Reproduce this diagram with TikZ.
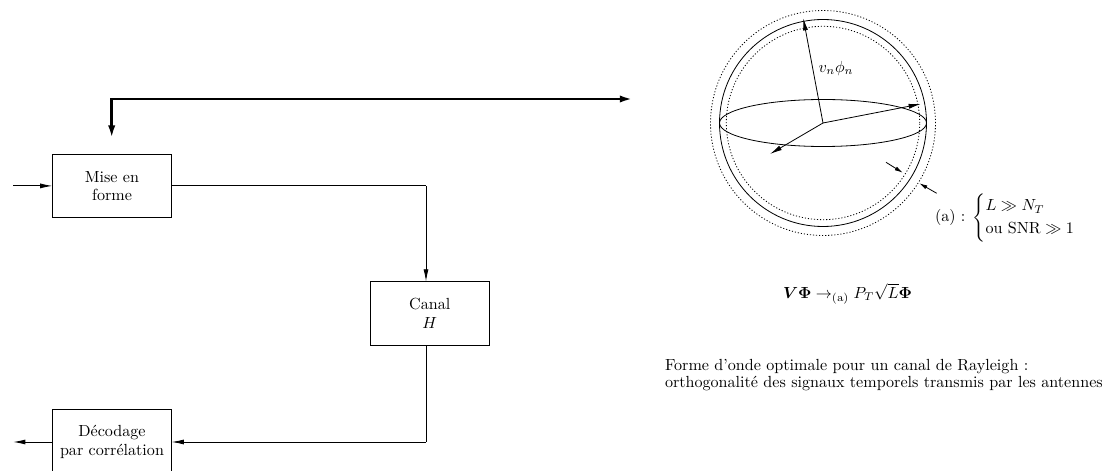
\documentclass[tikz,border=0pt]{standalone}
\usepackage{amsmath,amssymb,bm}
\usetikzlibrary{arrows.meta,calc}
\newcommand{\mycaptionfont}{\fontsize{10}{10.3}\selectfont}
\begin{document}
\begin{tikzpicture}[x=0.6211pt,y=-0.6211pt,
  blk/.style={draw,line width=0.5pt,minimum width=74.2pt,minimum height=39.6pt,inner sep=0pt,outer sep=0pt,align=center,font=\fontsize{10}{11.5}\selectfont},
  thin/.style={line width=0.5pt},
  arr/.style={thin,-{Latex[length=7.5pt,width=3.1pt]}},
  thickarr/.style={line width=1.7pt,{Latex[length=8pt,width=4.5pt]}-{Latex[length=8pt,width=4.5pt]}},
  dots/.style={line width=0.5pt,dash pattern=on 0.7pt off 1.2pt},
  lbl/.style={inner sep=0pt,outer sep=0pt}]
\useasboundingbox (0,0) rectangle (1112,471);
% blocks
\node[blk] (mise) at (112,185.9) {Mise en\\forme};
\node[blk] (canal) at (429.7,313.3) {Canal\\$H$};
\node[blk,minimum height=40.5pt] (dec) at (112,442) {D\'ecodage\\par corr\'elation};
% connector points
\coordinate (in) at (13.3,185.9);
\coordinate (out) at (13.3,442);
\coordinate (c1) at (426,185.9);
\coordinate (c2) at (426,442);
\coordinate (t1) at (111.7,138.3);
\coordinate (t2) at (111.7,99);
\coordinate (t3) at (632.7,99);
\draw[arr] (in) -- (mise.west);
\draw[thin] (mise.east) -- (c1);
\draw[arr] (c1) -- (c1 |- canal.north);
\draw[thin] (c2 |- canal.south) -- (c2);
\draw[arr] (c2) -- (dec.east);
\draw[arr] (dec.west) -- (out);
\draw[thickarr] (t1) -- (t2) -- (t3);
% sphere
\coordinate (O) at (823,123);
\draw[dots] (O) circle [radius=69.87pt];
\draw[thin] (O) circle [radius=64.28pt];
\draw[dots] (O) circle [radius=60.06pt];
\draw[thin] (O) ellipse [x radius=64.28pt, y radius=14.6pt];
\coordinate (v1) at (803.3,18.3);
\coordinate (v2) at (920.7,104);
\coordinate (v3) at (770,154);
\draw[arr] (O) -- (v1);
\draw[arr] (O) -- (v2);
\draw[arr] (O) -- (v3);
\node[lbl] (vlab) at (836,68.3) {$v_n\phi_n$};
\coordinate (s1a) at (886,162.3);
\coordinate (s1b) at (902.7,172.7);
\coordinate (s2a) at (936.7,193.3);
\coordinate (s2b) at (919.3,183.3);
\draw[thin,-{Latex[length=5pt,width=2.6pt]}] (s1a) -- (s1b);
\draw[thin,-{Latex[length=5pt,width=2.6pt]}] (s2a) -- (s2b);
\node[lbl,anchor=base west] (cond) at (935,221.7) {(a) : $\begin{cases}L\gg N_T\\ \text{ou SNR}\gg 1\end{cases}$};
\node[lbl,anchor=base west] (form) at (783,298.3) {$\bm{V}\bm{\Phi}\rightarrow_{\mathrm{(a)}} P_T\sqrt{L}\bm{\Phi}$};
\node[lbl,anchor=north west,align=left,font=\mycaptionfont] (cap) at (665,359.5) {Forme d'onde optimale pour un canal de Rayleigh :\\orthogonalit\'e des signaux temporels transmis par les antennes};
\end{tikzpicture}
\end{document}
